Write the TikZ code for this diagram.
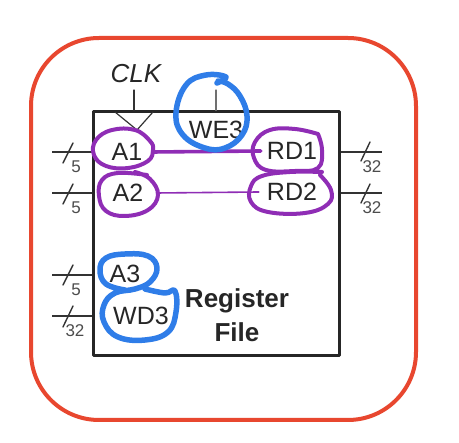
\documentclass[tikz,border=0pt]{standalone}
\usepackage{fontspec}
\setmainfont{Liberation Sans}
\usetikzlibrary{positioning}
\definecolor{markred}{HTML}{E8472F}
\definecolor{markblue}{HTML}{2F7DE8}
\definecolor{markpurple}{HTML}{8F2DB5}
\definecolor{wire}{HTML}{333333}
\begin{document}
\begin{tikzpicture}[x=1pt, y=-1pt, line join=round, line cap=round,
  port/.style={font=\fontsize{25}{27}\selectfont, text=black!85, inner ysep=2pt},
  width/.style={font=\fontsize{17}{19}\selectfont, text=black!70, inner sep=0pt},
  wirelink/.style={draw=wire, line width=2pt, line cap=butt},
  tick/.style={draw=wire, line width=1.4pt},
  stem/.style={draw=wire, line width=1.2pt},
  bluering/.style={draw=markblue, line width=5.5pt},
  purplering/.style={draw=markpurple, line width=4pt}]
\useasboundingbox (0,0) rectangle (459,443);
\draw[draw=markred, line width=4pt, rounded corners=68pt] (31,38) rectangle (416,420);
\draw (216.5,233.5)node[draw=black!85, line width=2.2pt, minimum width=246pt, minimum height=244pt, inner sep=0pt](regfile){};
% text
\draw (136,74)node[font=\fontsize{26}{28}\selectfont\itshape, text=black!85](clk){CLK};
\draw (216,130)node[port](we3){WE3};
\draw (127,152)node[port, inner xsep=10pt](a1){A1};
\draw (128,193)node[port, inner xsep=13pt](a2){A2};
\draw (125,274)node[port](a3){A3};
\draw (141,316)node[port](wd3){WD3};
\draw (292,151)node[port, inner xsep=6pt](rd1){RD1};
\draw (292,192)node[port, inner xsep=8pt](rd2){RD2};
\draw (237,301)node[port, font=\fontsize{26}{28}\selectfont\bfseries](reg){Register};
\draw (237,332)node[port, font=\fontsize{26}{28}\selectfont\bfseries](file){File};
% ports
\coordinate (in1) at (52,152);
\coordinate (in2) at (52,193);
\coordinate (in3) at (52,275);
\coordinate (in4) at (52,316);
\coordinate (out1) at (382,152);
\coordinate (out2) at (382,193);
\coordinate (clkin) at (134,90);
\coordinate (wein) at (216,90);
\path[wirelink] (in1) -- (in1 -| regfile.west);
\path[wirelink] (in2) -- (in2 -| regfile.west);
\path[wirelink] (in3) -- (in3 -| regfile.west);
\path[wirelink] (in4) -- (in4 -| regfile.west);
\path[wirelink] (regfile.east |- out1) -- (out1);
\path[wirelink] (regfile.east |- out2) -- (out2);
\draw[tick] (73,143) -- (63,163);
\draw[tick] (73,184) -- (63,204);
\draw[tick] (73,265) -- (63,285);
\draw[tick] (73,306) -- (63,327);
\draw[tick] (370,142) -- (361,161);
\draw[tick] (370,184) -- (361,203);
\draw (76,167)node[width](w1){5};
\draw (76,208)node[width](w2){5};
\draw (76,290)node[width](w3){5};
\draw (75,331)node[width](w4){32};
\draw (372,167)node[width](w5){32};
\draw (372,208)node[width](w6){32};
% clock and enable
\draw[stem] (clkin) -- (clkin |- regfile.north);
\draw[stem] (115,112) -- (137,130) -- (153,112);
\draw[stem, draw=wire!70] (wein) -- (wein |- regfile.north);
% marker
\draw[markpurple, line width=3.6pt] (a1.east) -- (rd1.west);
\draw[markpurple, line width=1.6pt] (a2.east) -- (rd2.west);
\draw[purplering] plot[smooth cycle, tension=0.7] coordinates {(150,141) (135,130) (112,130) (96,140) (94,155) (106,166) (128,168) (148,161) (153,150)};
\draw[purplering] plot[smooth, tension=0.7] coordinates {(147,175) (118,173) (102,180) (99,196) (106,211) (125,216) (148,210) (158,195) (150,179) (135,172)};
\draw[purplering] plot[smooth, tension=0.7] coordinates {(318,134) (295,129) (270,130) (255,142) (254,158) (266,170) (295,171) (318,168) (322,150) (318,134)};
\draw[purplering] plot[smooth, tension=0.7] coordinates {(322,172) (290,172) (262,176) (251,186) (251,202) (268,212) (305,213) (328,204) (331,190) (320,175)};
\draw[bluering] plot[smooth, tension=0.7] coordinates {(217,83) (226,77) (206,75) (186,85) (176,113) (183,135) (205,148) (225,148) (242,135) (247,116) (240,96) (228,84) (218,81)};
\draw[bluering] plot[smooth, tension=0.7] coordinates {(125,290) (106,284) (100,270) (106,258) (125,254) (148,256) (157,268) (150,282) (135,289) (115,293) (104,305) (104,322) (118,337) (145,340) (168,332) (176,312) (175,291) (165,293) (145,289)};
\end{tikzpicture}
\end{document}
